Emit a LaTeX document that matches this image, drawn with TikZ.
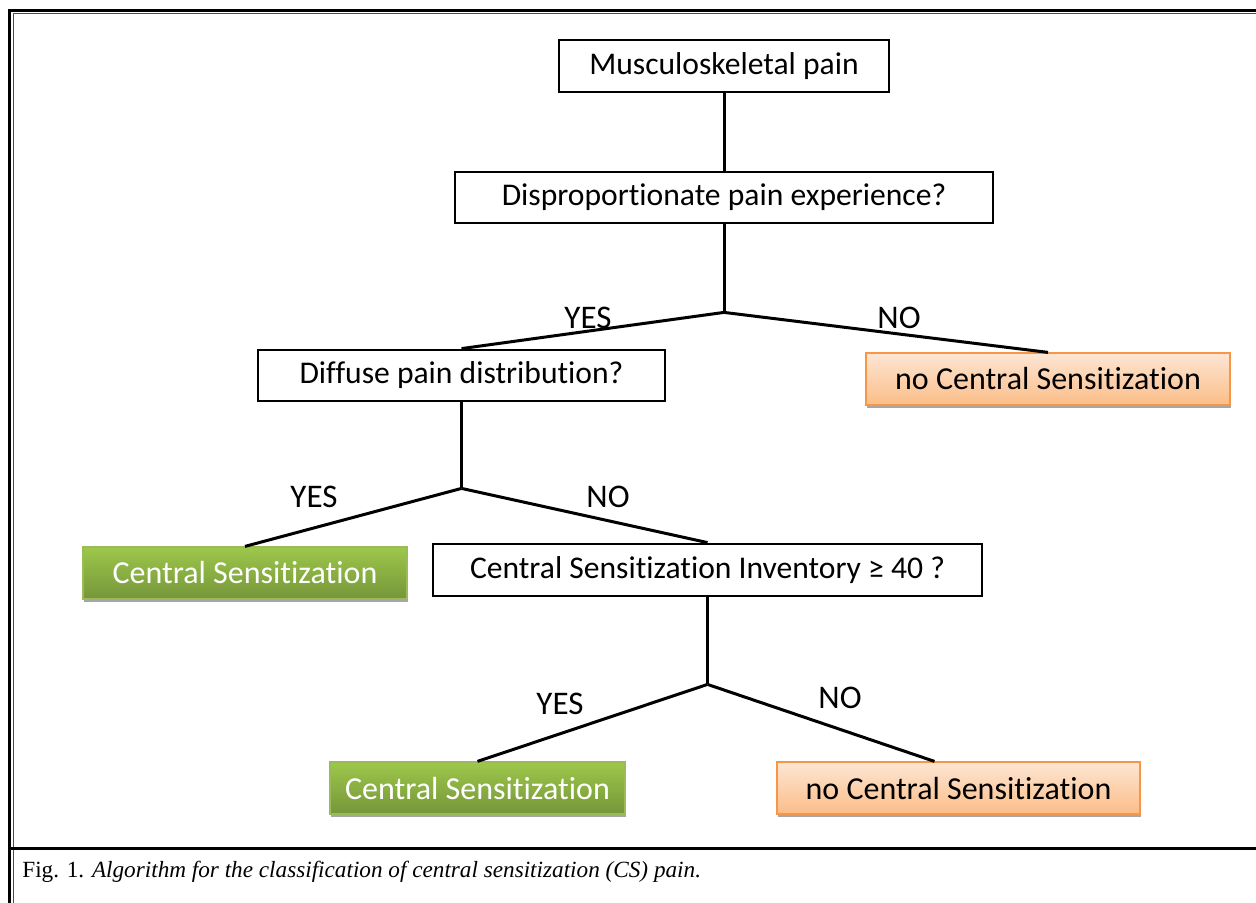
\documentclass[tikz,border=0pt]{standalone}
\usepackage{fontspec}
\setmainfont{Carlito}[Ligatures=NoCommon]
\newfontfamily\capfont{Liberation Serif}
\usetikzlibrary{shadows}
\definecolor{greentop}{HTML}{9DC84B}
\definecolor{greenbot}{HTML}{76953A}
\definecolor{greenline}{HTML}{9BBB59}
\definecolor{orangetop}{HTML}{FDE6D4}
\definecolor{orangebot}{HTML}{FBBD88}
\definecolor{orangeline}{HTML}{F79646}
\tikzset{
	qbox/.style={draw=black, line width=1.4pt, fill=white, inner sep=0pt, minimum height=25.5pt, font=\fontsize{15.8}{18}\selectfont},
	csbox/.style={draw=greenline, line width=0.6pt, top color=greentop, bottom color=greenbot, text=white, inner sep=0pt, minimum height=26pt, font=\fontsize{16}{19}\selectfont, drop shadow={shadow xshift=0.5pt, shadow yshift=-1.5pt, fill=black!35, opacity=1}},
	ncsbox/.style={draw=orangeline, line width=0.6pt, top color=orangetop, bottom color=orangebot, text=black, inner sep=0pt, minimum height=26pt, font=\fontsize{16}{19}\selectfont, drop shadow={shadow xshift=0.5pt, shadow yshift=-1.5pt, fill=black!35, opacity=1}},
	lbl/.style={inner sep=0pt, font=\fontsize{16.5}{19}\selectfont},
	link/.style={line width=1.5pt}
}
\begin{document}
\begin{tikzpicture}[x=0.5pt,y=-0.5pt]
	\useasboundingbox (0,0) rectangle (1256,903);
	\draw[line width=1.5pt] (1256,10.5) -- (9.5,10.5) -- (9.5,903);
	\draw[line width=0.5pt, black!70] (1256,14) -- (13,14) -- (13,903);
	\draw[line width=1.5pt] (9.5,848) -- (1256,848);
	
	\node[qbox, minimum width=165pt, minimum height=26pt] (msk) at (724,66) {Musculoskeletal pain};
	\node[qbox, minimum width=269pt] (disp) at (724,197.5) {Disproportionate pain experience?};
	\node[qbox, minimum width=203.5pt] (diff) at (461.5,375.5) {Diffuse pain distribution?};
	\node[ncsbox, minimum width=182pt] (ncs1) at (1048,379) {no Central Sensitization};
	\node[csbox, minimum width=162pt] (cs1) at (245,573) {Central Sensitization};
	\node[qbox, minimum width=274.5pt, minimum height=26pt] (csi) at (707.5,570) {Central Sensitization Inventory ≥ 40 ?};
	\node[csbox, minimum width=147.5pt] (cs2) at (477.5,788) {Central Sensitization};
	\node[ncsbox, minimum width=181.5pt] (ncs2) at (958.5,788) {no Central Sensitization};
	
	\coordinate (s1) at ([yshift=-44pt]disp.south);
	\coordinate (s2) at ([yshift=-43pt]diff.south);
	\coordinate (s3) at ([yshift=-43.5pt]csi.south);
	
	\foreach \a/\b in {msk.south/disp.north, disp.south/s1, s1/diff.north, s1/ncs1.north, diff.south/s2, s2/cs1.north, s2/csi.north, csi.south/s3, s3/cs2.north}
		\draw[link] (\a) -- (\b);
	\draw[link] (s3) -- ([xshift=-12pt]ncs2.north);
	
	\node[lbl] (yes1) at (588,318) {YES};
	\node[lbl] (no1) at (899,318) {NO};
	\node[lbl] (yes2) at (314,497) {YES};
	\node[lbl] (no2) at (608,497) {NO};
	\node[lbl] (yes3) at (560,704) {YES};
	\node[lbl] (no3) at (840,698) {NO};
	
	\node[anchor=west, inner sep=0pt, font=\capfont\fontsize{11.6}{14}\selectfont] (cap) at (22,872) {Fig. 1. \textit{Algorithm for the classification of central sensitization (CS) pain.}};
\end{tikzpicture}
\end{document}
